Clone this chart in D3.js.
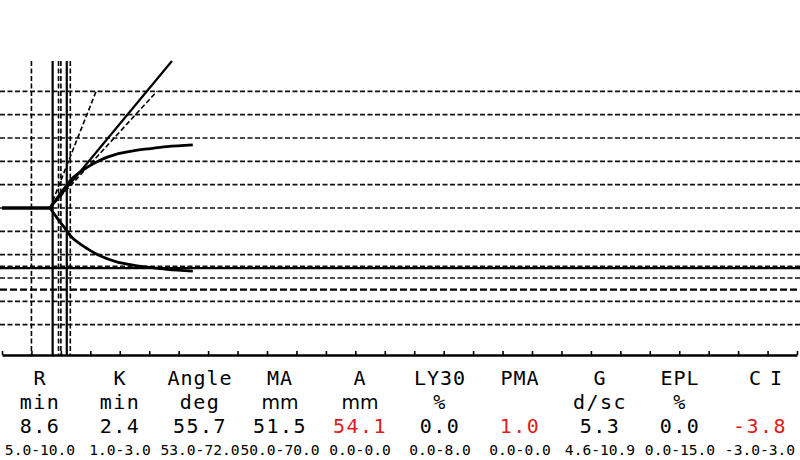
<!DOCTYPE html>
<html><head><meta charset="utf-8">
<script src="https://cdn.jsdelivr.net/npm/d3@7/dist/d3.min.js"></script>
<style>body{margin:0;background:#fff}svg{display:block}</style>
</head><body>
<svg id="c" width="800" height="460"></svg>
<script>
// ---- data ----
const curveTime = [8.15, 9.0, 9.85, 10.7, 11.55, 13.25, 14.94, 16.64, 19.48, 22.25, 25.13, 27.97, 32.4];
const curveAmp  = [0, 6.0, 12.0, 17.5, 23.5, 30.8, 36.3, 41.0, 46.2, 48.9, 50.9, 52.6, 54.1];
const paramNames  = ["R","K","Angle","MA","A","LY30","PMA","G","EPL","CI"];
const paramUnits  = ["min","min","deg","mm","mm","%","","d/sc","%",""];
const paramValues = ["8.6","2.4","55.7","51.5","54.1","0.0","1.0","5.3","0.0","-3.8"];
const paramRanges = ["5.0-10.0","1.0-3.0","53.0-72.0","50.0-70.0","0.0-0.0","0.0-8.0","0.0-0.0","4.6-10.9","0.0-15.0","-3.0-3.0"];
const paramAbnormal = [false,false,false,false,true,false,true,false,false,true];
const R = 8.6, K = 2.4, ANGLE = 55.7, MA = 51.5;
const R_RANGE = [5.0, 10.0], K_RANGE = [1.0, 3.0], ANGLE_RANGE = [53.0, 72.0], MA_RANGE = [50.0, 70.0];
const gridAmps = [-100,-80,-60,-40,-20,0,20,40,60,80,100];
const timeTicks = d3.range(0, 136, 5);
const ANGLE_FACTOR = 4.15; // mm/min per unit tan

// ---- scales ----
const svg = d3.select("#c");
const x = d3.scaleLinear().domain([0, 135]).range([2, 797]);
const y = d3.scaleLinear().domain([-126, 126]).range([355, 61]);
const yTop = 126;
const DASH = "5,2.5";

// grid lines
svg.append("g").selectAll("line").data(gridAmps).join("line")
  .attr("x1", 0).attr("x2", 800)
  .attr("y1", d => y(d)).attr("y2", d => y(d))
  .attr("stroke", "#111").attr("stroke-width", 1.6).attr("stroke-dasharray", DASH);

// MA normal range lines (lower)
svg.append("line").attr("x1",0).attr("x2",800).attr("y1",y(-MA_RANGE[0])).attr("y2",y(-MA_RANGE[0]))
  .attr("stroke","#111").attr("stroke-width",1.6).attr("stroke-dasharray",DASH);
svg.append("line").attr("x1",0).attr("x2",800).attr("y1",y(-MA_RANGE[1])).attr("y2",y(-MA_RANGE[1]))
  .attr("stroke","#000").attr("stroke-width",2.2).attr("stroke-dasharray","7,3");
// MA line
svg.append("line").attr("x1",0).attr("x2",800).attr("y1",y(-MA)).attr("y2",y(-MA))
  .attr("stroke","#000").attr("stroke-width",2.4);

// vertical lines
const vDashed = [R_RANGE[0], R_RANGE[1], R + K_RANGE[0], R + K_RANGE[1]];
const vSolid = [R, R + K];
svg.append("g").selectAll("line").data(vDashed).join("line")
  .attr("x1", d => x(d)).attr("x2", d => x(d))
  .attr("y1", y(yTop)).attr("y2", y(-126))
  .attr("stroke", "#000").attr("stroke-width", 1.6).attr("stroke-dasharray", DASH);
svg.append("g").selectAll("line").data(vSolid).join("line")
  .attr("x1", d => x(d)).attr("x2", d => x(d))
  .attr("y1", y(yTop)).attr("y2", y(-126))
  .attr("stroke", "#000").attr("stroke-width", 2.2);

// angle lines
const t0 = curveTime[0];
function angleEnd(deg, ampEnd) {
  const slope = Math.tan(deg * Math.PI / 180) * ANGLE_FACTOR;
  return t0 + ampEnd / slope;
}
svg.append("line").attr("x1", x(t0)).attr("y1", y(0))
  .attr("x2", x(angleEnd(ANGLE, yTop))).attr("y2", y(yTop))
  .attr("stroke","#000").attr("stroke-width",2.2);
ANGLE_RANGE.forEach(a => {
  svg.append("line").attr("x1", x(t0)).attr("y1", y(0))
    .attr("x2", x(angleEnd(a, 100))).attr("y2", y(100))
    .attr("stroke","#000").attr("stroke-width",1.6).attr("stroke-dasharray",DASH);
});

// curve
const pts = curveTime.map((t, i) => [t, curveAmp[i]]);
const line = d3.line().x(d => x(d[0])).curve(d3.curveMonotoneX);
svg.append("path").attr("d", line.y(d => y(d[1]))(pts))
  .attr("fill","none").attr("stroke","#000").attr("stroke-width",2.8);
svg.append("path").attr("d", line.y(d => y(-d[1]))(pts))
  .attr("fill","none").attr("stroke","#000").attr("stroke-width",2.8);
// flat part
svg.append("line").attr("x1", x(0)).attr("x2", x(t0)).attr("y1", y(0)).attr("y2", y(0))
  .attr("stroke","#000").attr("stroke-width",3.6);

// axis
const axis = d3.axisBottom(x).tickValues(timeTicks).tickSize(-4).tickFormat("").tickSizeOuter(0);
const ag = svg.append("g").attr("transform", `translate(0,${y(-126)})`).call(axis);
ag.select(".domain").attr("stroke","#000").attr("stroke-width",2.5);
ag.selectAll(".tick line").attr("stroke","#000").attr("stroke-width",1.6);

// parameter table
const colX = d3.scaleBand().domain(d3.range(10)).range([0, 800]);
const tg = svg.append("g").attr("font-family", "'DejaVu Sans Mono', monospace").attr("text-anchor","middle");
const cx = i => colX(i) + colX.bandwidth() / 2;
tg.selectAll("text.n").data(paramNames).join("text").attr("class","n")
  .attr("x", (d,i) => cx(i) + (d === "CI" ? 10 : 0)).attr("y", 385).attr("font-size", 20)
  .attr("letter-spacing", d => d === "CI" ? 9 : 1).text(d => d);
tg.selectAll("text.u").data(paramUnits).join("text").attr("class","u")
  .attr("x", (d,i) => cx(i)).attr("y", 409)
  .attr("font-size", d => d === "mm" ? 19 : 20)
  .attr("letter-spacing", d => d === "mm" ? 0 : 1.5)
  .attr("font-family", d => d === "mm" ? "'DejaVu Sans', sans-serif" : null)
  .text(d => d);
tg.selectAll("text.v").data(paramValues).join("text").attr("class","v")
  .attr("x", (d,i) => cx(i)).attr("y", 433).attr("font-size", 20).attr("letter-spacing", 1.5)
  .attr("fill", (d,i) => paramAbnormal[i] ? "#e01b1b" : "#000").text(d => d);
tg.selectAll("text.r").data(paramRanges).join("text").attr("class","r")
  .attr("x", (d,i) => cx(i)).attr("y", 455).attr("font-size", 14.6).text(d => d);
</script>
</body></html>
